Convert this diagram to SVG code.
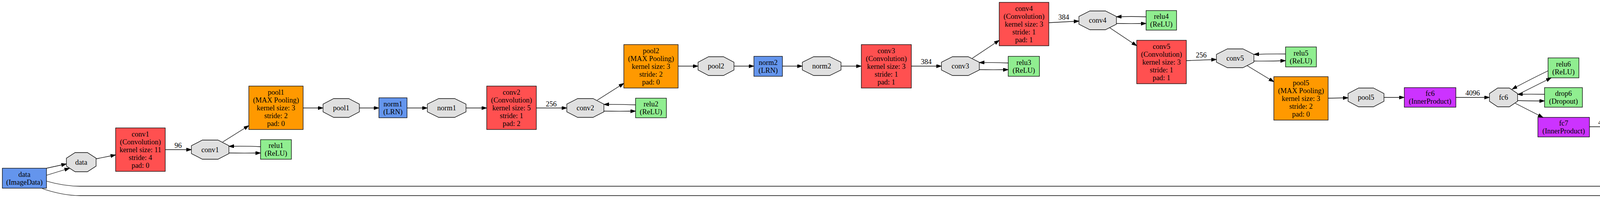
<svg xmlns="http://www.w3.org/2000/svg" width="5128" height="547" viewBox="0 0 5128 547">
<defs>
<marker id="arr" markerUnits="userSpaceOnUse" markerWidth="14" markerHeight="10" refX="13" refY="4.5" orient="auto" viewBox="0 0 14 10">
<path d="M0,0 L13,4.5 L0,9 z" fill="#000" stroke="#000" stroke-width="1"/>
</marker>
</defs>
<style>
.n rect,.n polygon,.n ellipse{stroke:#000;stroke-width:1.3}
.conv{fill:#FF5050}.pool{fill:#FF9900}.ip{fill:#CC33FF}.blue{fill:#6495ED}.neu{fill:#90EE90}.blob{fill:#E0E0E0}.out{fill:#FFFFFF}
text{font-family:"Liberation Serif","Times New Roman",serif;font-size:18.5px;fill:#000;text-anchor:middle}
.e path{fill:none;stroke:#000;stroke-width:1.3;marker-end:url(#arr)}
</style>
<rect width="5128" height="547" fill="#FFFFFF"/>

<g id="nodes">
<g id="data_layer" class="n"><rect class="blue" x="6" y="430" width="113" height="51"/><text x="62.5" y="451.5">data</text><text x="62.5" y="471.5">(ImageData)</text></g>
<g id="data_blob" class="n"><polygon class="blob" points="192.3,390 223.7,390 246,404.4 246,424.6 223.7,439 192.3,439 170,424.6 170,404.4"/><text x="208" y="420.5">data</text></g>
<g id="conv1_layer" class="n"><rect class="conv" x="296" y="327" width="127" height="111"/><text x="359.5" y="348.5">conv1</text><text x="359.5" y="368.5">(Convolution)</text><text x="359.5" y="388.5">kernel size: 11</text><text x="359.5" y="408.5">stride: 4</text><text x="359.5" y="428.5">pad: 0</text></g>
<g id="conv1_blob" class="n"><polygon class="blob" points="518.1,358 557.9,358 586,372.4 586,392.6 557.9,407 518.1,407 490,392.6 490,372.4"/><text x="538" y="388.5">conv1</text></g>
<g id="relu1_layer" class="n"><rect class="neu" x="667" y="357" width="79" height="50"/><text x="706.5" y="378">relu1</text><text x="706.5" y="398">(ReLU)</text></g>
<g id="pool1_layer" class="n"><rect class="pool" x="637" y="220" width="139" height="111"/><text x="706.5" y="241.5">pool1</text><text x="706.5" y="261.5">(MAX Pooling)</text><text x="706.5" y="281.5">kernel size: 3</text><text x="706.5" y="301.5">stride: 2</text><text x="706.5" y="321.5">pad: 0</text></g>
<g id="pool1_blob" class="n"><polygon class="blob" points="854.2,252 892.8,252 920,266.1 920,285.9 892.8,300 854.2,300 827,285.9 827,266.1"/><text x="873.5" y="282">pool1</text></g>
<g id="norm1_layer" class="n"><rect class="blue" x="970" y="250" width="72" height="51"/><text x="1006" y="271.5">norm1</text><text x="1006" y="291.5">(LRN)</text></g>
<g id="norm1_blob" class="n"><polygon class="blob" points="1123,252 1164,252 1193,266.1 1193,285.9 1164,300 1123,300 1094,285.9 1094,266.1"/><text x="1143.5" y="282">norm1</text></g>
<g id="conv2_layer" class="n"><rect class="conv" x="1246" y="220" width="127" height="111"/><text x="1309.5" y="241.5">conv2</text><text x="1309.5" y="261.5">(Convolution)</text><text x="1309.5" y="281.5">kernel size: 5</text><text x="1309.5" y="301.5">stride: 1</text><text x="1309.5" y="321.5">pad: 2</text></g>
<g id="conv2_blob" class="n"><polygon class="blob" points="1478.8,252 1518.2,252 1546,266.1 1546,285.9 1518.2,300 1478.8,300 1451,285.9 1451,266.1"/><text x="1498.5" y="282">conv2</text></g>
<g id="relu2_layer" class="n"><rect class="neu" x="1627" y="251" width="79" height="50"/><text x="1666.5" y="272">relu2</text><text x="1666.5" y="292">(ReLU)</text></g>
<g id="pool2_layer" class="n"><rect class="pool" x="1597" y="114" width="139" height="111"/><text x="1666.5" y="135.5">pool2</text><text x="1666.5" y="155.5">(MAX Pooling)</text><text x="1666.5" y="175.5">kernel size: 3</text><text x="1666.5" y="195.5">stride: 2</text><text x="1666.5" y="215.5">pad: 0</text></g>
<g id="pool2_blob" class="n"><polygon class="blob" points="1814,145 1852,145 1879,159.1 1879,178.9 1852,193 1814,193 1787,178.9 1787,159.1"/><text x="1833" y="175">pool2</text></g>
<g id="norm2_layer" class="n"><rect class="blue" x="1930" y="144" width="73" height="51"/><text x="1966.5" y="165.5">norm2</text><text x="1966.5" y="185.5">(LRN)</text></g>
<g id="norm2_blob" class="n"><polygon class="blob" points="2083,145 2124,145 2153,159.1 2153,178.9 2124,193 2083,193 2054,178.9 2054,159.1"/><text x="2103.5" y="175">norm2</text></g>
<g id="conv3_layer" class="n"><rect class="conv" x="2205" y="114" width="128" height="111"/><text x="2269" y="135.5">conv3</text><text x="2269" y="155.5">(Convolution)</text><text x="2269" y="175.5">kernel size: 3</text><text x="2269" y="195.5">stride: 1</text><text x="2269" y="215.5">pad: 1</text></g>
<g id="conv3_blob" class="n"><polygon class="blob" points="2438.4,145 2478.6,145 2507,159.1 2507,178.9 2478.6,193 2438.4,193 2410,178.9 2410,159.1"/><text x="2458.5" y="175">conv3</text></g>
<g id="relu3_layer" class="n"><rect class="neu" x="2581" y="144" width="80" height="51"/><text x="2621" y="165.5">relu3</text><text x="2621" y="185.5">(ReLU)</text></g>
<g id="conv4_layer" class="n"><rect class="conv" x="2558" y="6" width="127" height="111"/><text x="2621.5" y="27.5">conv4</text><text x="2621.5" y="47.5">(Convolution)</text><text x="2621.5" y="67.5">kernel size: 3</text><text x="2621.5" y="87.5">stride: 1</text><text x="2621.5" y="107.5">pad: 1</text></g>
<g id="conv4_blob" class="n"><polygon class="blob" points="2790.1,28 2829.9,28 2858,42.1 2858,61.9 2829.9,76 2790.1,76 2762,61.9 2762,42.1"/><text x="2810" y="58">conv4</text></g>
<g id="relu4_layer" class="n"><rect class="neu" x="2934" y="27" width="78" height="50"/><text x="2973" y="48">relu4</text><text x="2973" y="68">(ReLU)</text></g>
<g id="conv5_layer" class="n"><rect class="conv" x="2910" y="103" width="127" height="111"/><text x="2973.5" y="124.5">conv5</text><text x="2973.5" y="144.5">(Convolution)</text><text x="2973.5" y="164.5">kernel size: 3</text><text x="2973.5" y="184.5">stride: 1</text><text x="2973.5" y="204.5">pad: 1</text></g>
<g id="conv5_blob" class="n"><polygon class="blob" points="3142.1,125 3181.9,125 3210,139.1 3210,158.9 3181.9,173 3142.1,173 3114,158.9 3114,139.1"/><text x="3162" y="155">conv5</text></g>
<g id="relu5_layer" class="n"><rect class="neu" x="3291" y="120" width="79" height="51"/><text x="3330.5" y="141.5">relu5</text><text x="3330.5" y="161.5">(ReLU)</text></g>
<g id="pool5_layer" class="n"><rect class="pool" x="3261" y="196" width="139" height="111"/><text x="3330.5" y="217.5">pool5</text><text x="3330.5" y="237.5">(MAX Pooling)</text><text x="3330.5" y="257.5">kernel size: 3</text><text x="3330.5" y="277.5">stride: 2</text><text x="3330.5" y="297.5">pad: 0</text></g>
<g id="pool5_blob" class="n"><polygon class="blob" points="3478,225 3516,225 3543,239.1 3543,258.9 3516,273 3478,273 3451,258.9 3451,239.1"/><text x="3497" y="255">pool5</text></g>
<g id="fc6_layer" class="n"><rect class="ip" x="3595" y="224" width="132" height="50"/><text x="3661" y="245">fc6</text><text x="3661" y="265">(InnerProduct)</text></g>
<g id="fc6_blob" class="n"><polygon class="blob" points="3834.1,225 3863.9,225 3885,239.1 3885,258.9 3863.9,273 3834.1,273 3813,258.9 3813,239.1"/><text x="3849" y="255">fc6</text></g>
<g id="relu6_layer" class="n"><rect class="neu" x="3963" y="148" width="79" height="51"/><text x="4002.5" y="169.5">relu6</text><text x="4002.5" y="189.5">(ReLU)</text></g>
<g id="drop6_layer" class="n"><rect class="neu" x="3954" y="224" width="97" height="50"/><text x="4002.5" y="245">drop6</text><text x="4002.5" y="265">(Dropout)</text></g>
<g id="fc7_layer" class="n"><rect class="ip" x="3937" y="300" width="132" height="50"/><text x="4003" y="321">fc7</text><text x="4003" y="341">(InnerProduct)</text></g>
<g id="fc7_blob" class="n"><polygon class="blob" points="4175.4,300 4205.6,300 4227,314.1 4227,333.9 4205.6,348 4175.4,348 4154,333.9 4154,314.1"/><text x="4190.5" y="330">fc7</text></g>
<g id="drop7_layer" class="n"><rect class="neu" x="4295" y="223" width="97" height="50"/><text x="4343.5" y="244">drop7</text><text x="4343.5" y="264">(Dropout)</text></g>
<g id="relu7_layer" class="n"><rect class="neu" x="4304" y="298" width="79" height="51"/><text x="4343.5" y="319.5">relu7</text><text x="4343.5" y="339.5">(ReLU)</text></g>
<g id="fc8_layer" class="n"><rect class="ip" x="4278" y="375" width="132" height="50"/><text x="4344" y="396">fc8_fingerprint</text><text x="4344" y="416">(InnerProduct)</text></g>
<g id="fc8_blob" class="n"><polygon class="blob" points="4542.5,368 4619.5,368 4674,380.5 4674,403.5 4619.5,416 4542.5,416 4488,403.5 4488,380.5"/><text x="4581" y="398">fc8_fingerprint</text></g>
<g id="label_blob" class="n"><polygon class="blob" points="4564.1,464 4596.9,464 4620,478.1 4620,497.9 4596.9,512 4564.1,512 4541,497.9 4541,478.1"/><text x="4580.5" y="494">label</text></g>
<g id="loss_layer" class="n"><rect class="blue" x="4725" y="333" width="171" height="51"/><text x="4810.5" y="354.5">loss</text><text x="4810.5" y="374.5">(SoftmaxWithLoss)</text></g>
<g id="acctop5_layer" class="n"><rect class="blue" x="4743" y="410" width="135" height="51"/><text x="4810.5" y="431.5">accuracy/top-5</text><text x="4810.5" y="451.5">(Accuracy)</text></g>
<g id="acc_layer" class="n"><rect class="blue" x="4757" y="491" width="107" height="50"/><text x="4810.5" y="512">accuracy</text><text x="4810.5" y="532">(Accuracy)</text></g>
<g id="loss_out" class="n"><ellipse class="out" cx="5034.5" cy="358.5" rx="36.5" ry="24"/><text x="5034.5" y="364.5">loss</text></g>
<g id="acctop5_out" class="n"><ellipse class="out" cx="5034.5" cy="436" rx="87.5" ry="24"/><text x="5034.5" y="442">accuracy/top-5</text></g>
<g id="acc_out" class="n"><ellipse class="out" cx="5034.5" cy="516" rx="58.5" ry="24.5"/><text x="5034.5" y="522">accuracy</text></g>
</g>

<g id="connectors" class="e">
<path d="M119,430 L170,419"/>
<path d="M119,448 L178,430"/>
<path d="M246,406 L296,396"/>
<path d="M423,382.5 L490,382.5"/>
<path d="M570,363 L637,321"/>
<path d="M667,375 C640,373.5 612,373.5 586,374"/>
<path d="M586,391 C612,391.5 640,391.5 667,391"/>
<path d="M776,276 L827,276"/>
<path d="M920,276 L970,276"/>
<path d="M1042,276 L1094,276"/>
<path d="M1193,276 L1246,276"/>
<path d="M1373,276 L1451,276"/>
<path d="M1529,256 L1597,213"/>
<path d="M1627,268 C1600,267 1572,266.5 1546,267"/>
<path d="M1546,284 C1572,284.5 1600,284.5 1627,284"/>
<path d="M1736,169 L1787,169"/>
<path d="M1879,169 L1930,169"/>
<path d="M2003,169 L2054,169"/>
<path d="M2153,169 L2205,169"/>
<path d="M2333,169 L2410,169"/>
<path d="M2489,149 L2558,103"/>
<path d="M2581,161 C2556,160 2532,159.5 2507,160"/>
<path d="M2507,178 C2532,178.5 2556,178.5 2581,178"/>
<path d="M2685,58 L2762,54"/>
<path d="M2934,43 C2908,42 2884,42 2858,43"/>
<path d="M2858,60 C2884,60.5 2908,60.5 2934,60"/>
<path d="M2841,71 L2910,117"/>
<path d="M3037,155 L3114,152"/>
<path d="M3291,138 C3264,137.5 3237,138 3210,139"/>
<path d="M3210,156 C3237,156.5 3264,156 3291,155"/>
<path d="M3193,168 L3261,209"/>
<path d="M3400,251 L3451,250"/>
<path d="M3543,249 L3595,249"/>
<path d="M3727,249 L3813,249"/>
<path d="M3963,181 C3930,197 3900,212 3871,228"/>
<path d="M3885,242 L3971,199"/>
<path d="M3954,241 C3930,240.5 3908,240.5 3885,241"/>
<path d="M3885,257 C3908,258 3930,258 3954,258"/>
<path d="M3879,264 L3950,300"/>
<path d="M4069,324 L4154,324"/>
<path d="M4295,260 C4265,274 4237,289 4210,303"/>
<path d="M4227,317 L4311,274"/>
<path d="M4304,316 C4278,315.5 4253,315.5 4227,316"/>
<path d="M4227,332 C4253,333 4278,333 4304,332"/>
<path d="M4220,339 L4292,375"/>
<path d="M4410,398 L4488,395"/>
<path d="M4667,379 L4725,371"/>
<path d="M4657,407 L4743,422"/>
<path d="M4622,416 L4757,491"/>
<path d="M4609,470 L4753,384"/>
<path d="M4620,478 L4743,451"/>
<path d="M4620,493 L4757,511"/>
<path d="M4896,358.5 L4998,358.5"/>
<path d="M4878,436 L4947,436"/>
<path d="M4864,516 L4976,516"/>
<path d="M119,463 C150,472 175,476 205,476 L4500,476 C4515,476 4528,477 4541,479"/>
<path d="M108,482 C140,493 172,500 205,500 L4500,500 C4515,500 4528,499.5 4541,498"/>
</g>

<g id="edge_labels">
<text x="456" y="378">96</text>
<text x="1411" y="272">256</text>
<text x="2371" y="164">384</text>
<text x="2723" y="50">384</text>
<text x="3075" y="147">256</text>
<text x="3770" y="244">4096</text>
<text x="4110" y="319">4096</text>
<text x="4448" y="391">140</text>
</g>
</svg>
